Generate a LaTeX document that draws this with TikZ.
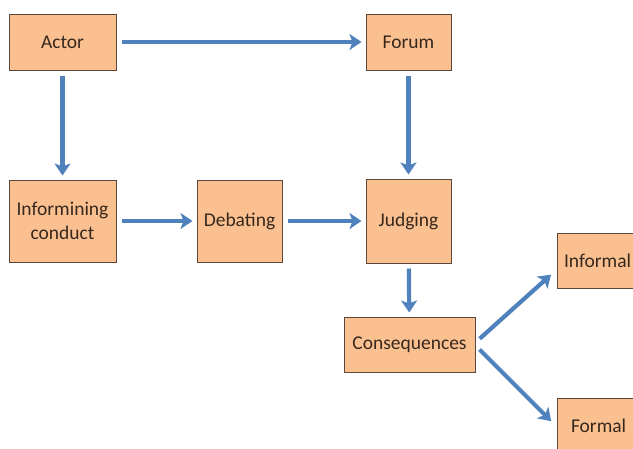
\documentclass[tikz,border=0pt]{standalone}
\usepackage{fontspec}
\setmainfont{Carlito}
\usetikzlibrary{arrows.meta}
\definecolor{boxfill}{RGB}{250,192,144}
\definecolor{boxline}{RGB}{90,72,60}
\definecolor{arrowblue}{RGB}{79,129,189}
\definecolor{txt}{RGB}{55,40,30}
\tikzset{
  box/.style={draw=boxline, line width=1pt, fill=boxfill, text=txt, align=center,
    font=\fontsize{19.5}{24}\selectfont, inner sep=0pt},
  conn/.style={draw=arrowblue, line width=4.2pt,
    -{Stealth[width=16pt,length=12pt,inset=3pt]}, shorten <=5pt, shorten >=4pt}
}
\begin{document}
\begin{tikzpicture}[x=1pt,y=-1pt]
\useasboundingbox (0,0) rectangle (633,448);
\fill[white] (0,0) rectangle (633,448);
\clip (0,0) rectangle (633,448);
\node[box, minimum width=107pt, minimum height=56pt] (actor) at (62.5,42) {Actor};
\node[box, minimum width=85pt, minimum height=56pt] (forum) at (408.5,42) {Forum};
\node[box, minimum width=107pt, minimum height=82pt] (inform) at (62.5,221) {Informining\\conduct};
\node[box, minimum width=85pt, minimum height=82pt] (debate) at (239.5,221) {Debating};
\node[box, minimum width=85pt, minimum height=84pt] (judge) at (408.5,221) {Judging};
\node[box, minimum width=131pt, minimum height=55pt] (cons) at (409.5,344.5) {Consequences};
\node[box, minimum width=100pt, minimum height=55pt, text width=100pt, align=left] (informal) at (607,261) {\hspace*{7pt}Informal};
\node[box, minimum width=100pt, minimum height=56pt, text width=100pt, align=left] (formal) at (607,426) {\hspace*{14pt}Formal};
\coordinate (c1) at (476,342);
\coordinate (c2) at (476,346);
\coordinate (i1) at (554,272);
\coordinate (f1) at (554,424);
\draw[conn] (actor) -- (forum);
\draw[conn] (actor) -- (inform);
\draw[conn] (forum) -- (judge);
\draw[conn] (inform) -- (debate);
\draw[conn] (debate) -- (judge);
\draw[conn] (judge) -- (cons);
\draw[conn] (c1) -- (i1);
\draw[conn] (c2) -- (f1);
\end{tikzpicture}
\end{document}
